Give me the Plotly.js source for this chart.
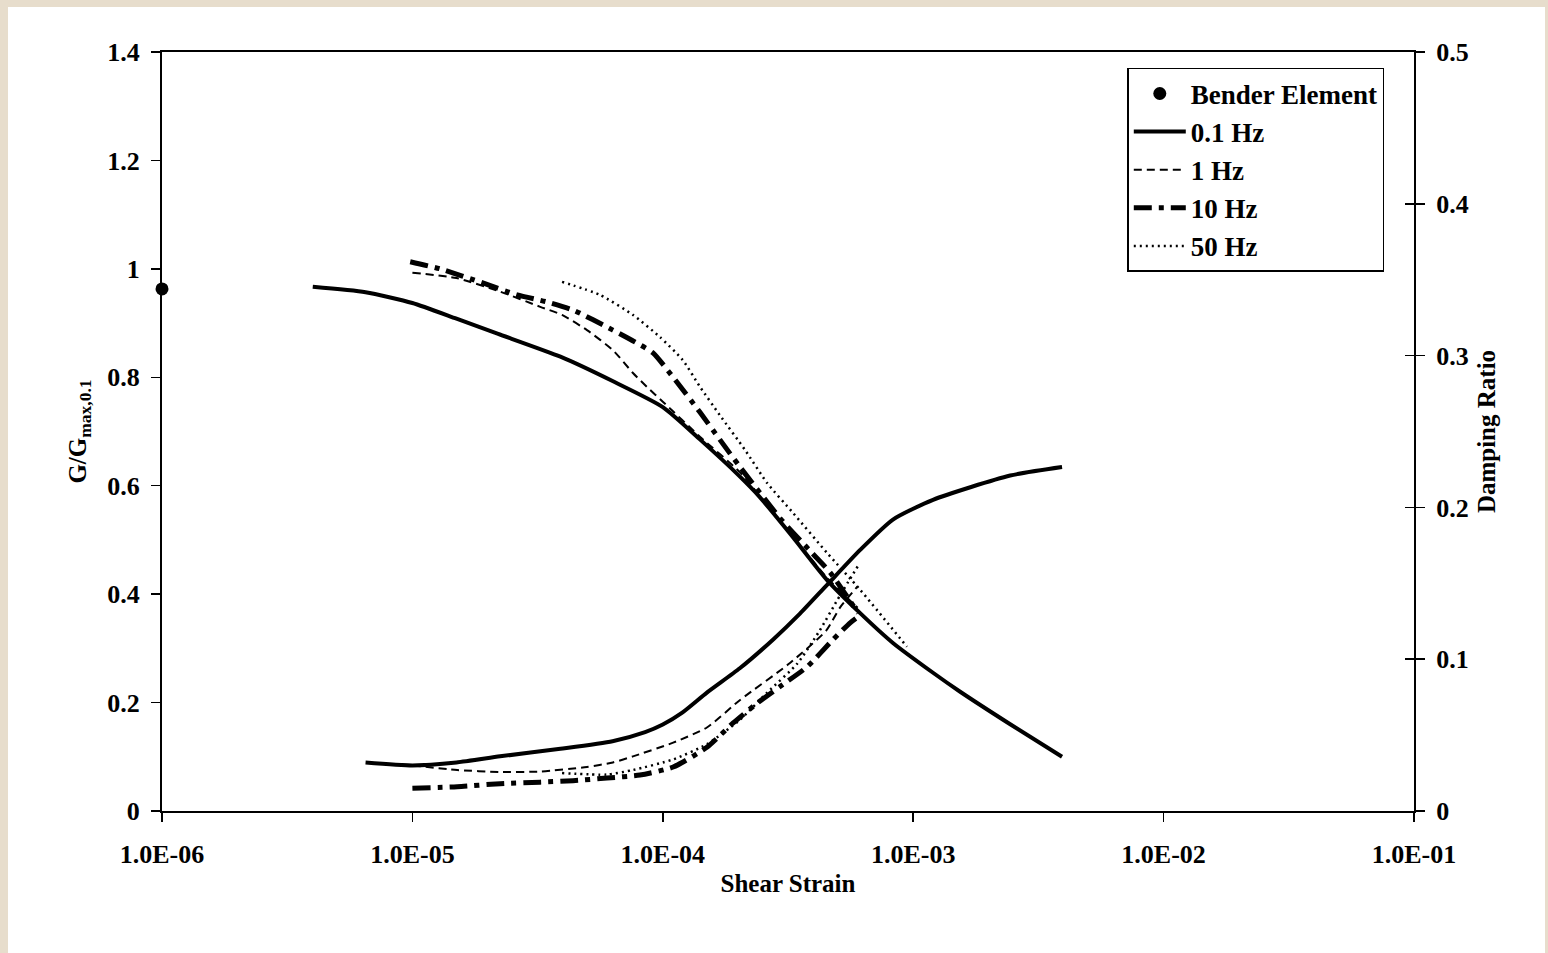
<!DOCTYPE html>
<html>
<head>
<meta charset="utf-8">
<script src="https://cdn.plot.ly/plotly-3.0.1.min.js"></script>
<style>
  html, body { margin: 0; padding: 0; }
  body { width: 1548px; height: 953px; background: #e7ddcc; position: relative; overflow: hidden; }
  #sheet { position: absolute; left: 8px; top: 7px; width: 1537px; height: 946px; background: #ffffff; }
</style>
</head>
<body>
<div id="sheet"></div>
<script>
// Shear strain values (x) and normalised modulus / damping per loading frequency
const benderStrain = [1.0e-6];
const benderG = [0.963];

const strain01G = [4.0e-6, 6.5e-6, 1.0e-5, 1.5e-5, 2.2e-5, 3.9e-5, 6.3e-5, 1.0e-4, 1.41e-4, 2.0e-4, 2.44e-4, 3.31e-4, 4.53e-4, 6.14e-4, 8.3e-4, 1.2e-3, 1.54e-3, 2.44e-3, 3.93e-3];
const g01 = [0.967, 0.957, 0.937, 0.908, 0.880, 0.838, 0.793, 0.745, 0.685, 0.620, 0.579, 0.505, 0.426, 0.365, 0.310, 0.255, 0.220, 0.160, 0.100];

const strain01D = [6.5e-6, 1.0e-5, 1.5e-5, 2.24e-5, 3.9e-5, 6.3e-5, 8.5e-5, 1.0e-4, 1.2e-4, 1.5e-4, 2.03e-4, 2.76e-4, 3.53e-4, 4.53e-4, 6.14e-4, 8.3e-4, 1.2e-3, 2.44e-3, 3.93e-3];
const d01 = [0.032, 0.030, 0.032, 0.036, 0.041, 0.046, 0.052, 0.057, 0.065, 0.078, 0.094, 0.113, 0.130, 0.149, 0.172, 0.192, 0.205, 0.221, 0.2266];

const strain1G = [1.0e-5, 1.5e-5, 2.24e-5, 3.24e-5, 3.96e-5, 4.98e-5, 6.32e-5, 7.6e-5, 8.65e-5, 1.0e-4, 1.41e-4, 2.03e-4, 2.76e-4, 3.53e-4, 4.53e-4, 6.0e-4];
const g1 = [0.993, 0.983, 0.958, 0.930, 0.915, 0.887, 0.850, 0.808, 0.782, 0.755, 0.690, 0.625, 0.550, 0.490, 0.430, 0.375];

const strain1D = [1.0e-5, 1.51e-5, 2.24e-5, 3.24e-5, 4.98e-5, 6.32e-5, 7.6e-5, 1.1e-4, 1.5e-4, 2.03e-4, 3.22e-4, 4.5e-4, 5.1e-4, 6.0e-4];
const d1 = [0.030, 0.027, 0.0257, 0.026, 0.029, 0.032, 0.036, 0.045, 0.055, 0.073, 0.0975, 0.119, 0.134, 0.148];

const strain10G = [9.8e-6, 1.29e-5, 1.91e-5, 2.62e-5, 3.45e-5, 4.38e-5, 6.32e-5, 7.89e-5, 9.14e-5, 1.1e-4, 1.41e-4, 1.69e-4, 2.03e-4, 2.94e-4, 3.87e-4, 4.66e-4, 6.03e-4];
const g10 = [1.013, 1.000, 0.974, 0.952, 0.939, 0.924, 0.887, 0.863, 0.845, 0.800, 0.735, 0.685, 0.635, 0.540, 0.480, 0.440, 0.365];

const strain10D = [1.0e-5, 1.51e-5, 2.24e-5, 3.24e-5, 4.38e-5, 5.98e-5, 8.1e-5, 1.1e-4, 1.5e-4, 1.91e-4, 2.38e-4, 2.94e-4, 3.77e-4, 4.79e-4, 5.6e-4, 6.03e-4];
const d10 = [0.015, 0.016, 0.018, 0.019, 0.020, 0.0217, 0.0237, 0.029, 0.042, 0.058, 0.071, 0.082, 0.095, 0.113, 0.124, 0.128];

const strain50G = [3.96e-5, 5.61e-5, 7.6e-5, 9.75e-5, 1.2e-4, 1.41e-4, 1.69e-4, 2.13e-4, 2.61e-4, 3.31e-4, 4.53e-4, 6.14e-4, 9.44e-4];
const g50 = [0.976, 0.952, 0.915, 0.874, 0.832, 0.782, 0.730, 0.666, 0.605, 0.550, 0.476, 0.408, 0.303];

const strain50D = [3.96e-5, 5.98e-5, 7.6e-5, 1.1e-4, 1.5e-4, 2.03e-4, 2.61e-4, 3.44e-4, 4.2e-4, 5.1e-4, 6.1e-4];
const d50 = [0.025, 0.024, 0.027, 0.034, 0.044, 0.060, 0.078, 0.097, 0.118, 0.142, 0.163];

const xTickVals = [1e-6, 1e-5, 1e-4, 1e-3, 1e-2, 1e-1];
const xTickText = ['1.0E-06', '1.0E-05', '1.0E-04', '1.0E-03', '1.0E-02', '1.0E-01'];

const FONT = 'Liberation Serif, Times New Roman, serif';

const solid01 = {color: '#000', width: 4, dash: 'solid', shape: 'spline', smoothing: 0.6};
const dash1 = {color: '#000', width: 2, dash: '8px,5px', shape: 'spline', smoothing: 0.6};
const dashDot10 = {color: '#000', width: 5, dash: '18px,7px,5px,7px', shape: 'spline', smoothing: 0.6};
const dot50 = {color: '#000', width: 2.5, dash: '2px,4px', shape: 'spline', smoothing: 0.6};

const traces = [
  {x: benderStrain, y: benderG, name: 'Bender Element', mode: 'markers', type: 'scatter',
   marker: {color: '#000', size: 13}, xaxis: 'x', yaxis: 'y', cliponaxis: false},
  {x: strain01G, y: g01, name: '0.1 Hz', mode: 'lines', line: solid01, xaxis: 'x', yaxis: 'y'},
  {x: strain1G, y: g1, name: '1 Hz', mode: 'lines', line: dash1, xaxis: 'x', yaxis: 'y'},
  {x: strain10G, y: g10, name: '10 Hz', mode: 'lines', line: dashDot10, xaxis: 'x', yaxis: 'y'},
  {x: strain50G, y: g50, name: '50 Hz', mode: 'lines', line: dot50, xaxis: 'x', yaxis: 'y'},
  {x: strain01D, y: d01, name: '0.1 Hz', mode: 'lines', line: solid01, xaxis: 'x', yaxis: 'y2', showlegend: false},
  {x: strain1D, y: d1, name: '1 Hz', mode: 'lines', line: dash1, xaxis: 'x', yaxis: 'y2', showlegend: false},
  {x: strain10D, y: d10, name: '10 Hz', mode: 'lines', line: dashDot10, xaxis: 'x', yaxis: 'y2', showlegend: false},
  {x: strain50D, y: d50, name: '50 Hz', mode: 'lines', line: dot50, xaxis: 'x', yaxis: 'y2', showlegend: false},
  // empty trace so the inner tick set of the damping axis is drawn
  {x: [1e-6], y: [null], xaxis: 'x', yaxis: 'y3', showlegend: false, hoverinfo: 'skip', mode: 'lines'}
];

const layout = {
  width: 1537, height: 946,
  margin: {l: 154, r: 131, t: 45, b: 142},
  paper_bgcolor: '#ffffff', plot_bgcolor: '#ffffff',
  font: {family: FONT, size: 26, color: '#000', weight: 'bold'},
  showlegend: true,
  legend: {
    x: 0.771, y: 0.979, xanchor: 'left', yanchor: 'top',
    bgcolor: '#ffffff', bordercolor: '#000', borderwidth: 1.5,
    font: {family: FONT, size: 27, color: '#000', weight: 'bold'},
    itemwidth: 52, tracegroupgap: 0
  },
  xaxis: {
    type: 'log', range: [-6, -1],
    tickvals: xTickVals, ticktext: xTickText,
    ticks: 'outside', ticklen: 9, tickwidth: 1.5, tickcolor: '#000',
    showline: true, linecolor: '#000', linewidth: 2, mirror: true,
    showgrid: false, zeroline: false, ticklabelstandoff: 10,
    tickfont: {family: FONT, size: 26, weight: 'bold'},
    title: {text: 'Shear Strain', standoff: 6, font: {family: FONT, size: 25, weight: 'bold'}}
  },
  yaxis: {
    range: [0, 1.4], dtick: 0.2, tick0: 0,
    ticks: 'outside', ticklen: 9, tickwidth: 1.5, tickcolor: '#000',
    showline: true, linecolor: '#000', linewidth: 2, mirror: true,
    showgrid: false, zeroline: false, ticklabelstandoff: 6,
    tickfont: {family: FONT, size: 26, weight: 'bold'},
    title: {text: 'G/G<sub>max,0.1</sub>', standoff: 14, font: {family: FONT, size: 25, weight: 'bold'}}
  },
  yaxis2: {
    overlaying: 'y', side: 'right', anchor: 'x',
    range: [0, 0.5], dtick: 0.1, tick0: 0,
    ticks: 'outside', ticklen: 9, tickwidth: 1.5, tickcolor: '#000',
    showline: true, linecolor: '#000', linewidth: 2,
    showgrid: false, zeroline: false, ticklabelstandoff: 6,
    tickfont: {family: FONT, size: 26, weight: 'bold'},
    title: {text: 'Damping Ratio', standoff: 10, font: {family: FONT, size: 25, weight: 'bold'}}
  },
  yaxis3: {
    overlaying: 'y', side: 'right', anchor: 'x',
    range: [0, 0.5], dtick: 0.1, tick0: 0,
    ticks: 'inside', ticklen: 9, tickwidth: 1.5, tickcolor: '#000',
    showticklabels: false, showline: false, showgrid: false, zeroline: false
  }
};

Plotly.newPlot('sheet', traces, layout, {displayModeBar: false, staticPlot: true});
</script>
</body>
</html>
